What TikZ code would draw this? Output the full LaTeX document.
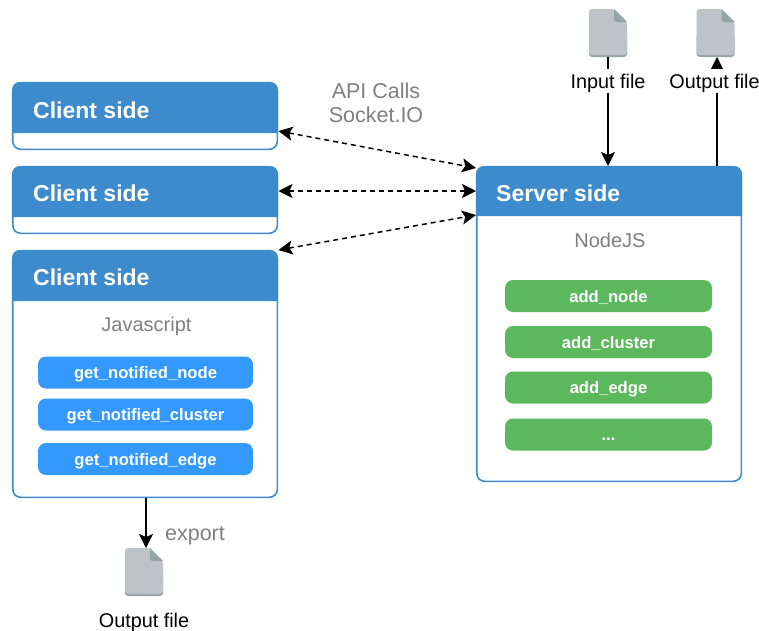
\documentclass[tikz,border=0pt]{standalone}
\usepackage{fontspec}
\setmainfont{Liberation Sans}
\usetikzlibrary{arrows.meta}

\definecolor{headblue}{HTML}{3D8ACD}
\definecolor{pillblue}{HTML}{3399FF}
\definecolor{pillgreen}{HTML}{5CB85C}
\definecolor{filegray}{HTML}{BDC3C7}
\definecolor{foldgray}{HTML}{95A5A6}
\definecolor{labelgray}{HTML}{808080}

\tikzset{
    panel/.style={draw=headblue, line width=1.6pt, rounded corners=8pt, fill=white,
        minimum width=264.6pt, inner sep=0pt, outer sep=0pt},
    headtext/.style={text=white, font=\fontsize{23}{23}\selectfont\bfseries, anchor=west, inner sep=0pt},
    pill/.style={rounded corners=8pt, text=white, font=\fontsize{16.6}{16.6}\selectfont\bfseries,
        inner sep=0pt, outer sep=0pt, minimum height=32pt, text height=13pt, text depth=1pt},
    bluepill/.style={pill, fill=pillblue, minimum width=215pt},
    greenpill/.style={pill, fill=pillgreen, minimum width=207pt},
    graytext/.style={text=labelgray, font=\fontsize{20}{20}\selectfont, inner sep=0pt},
    filetext/.style={text=black, fill=white, font=\fontsize{19.8}{19.8}\selectfont, inner sep=1pt,
        minimum height=24pt, text height=16pt, text depth=2pt},
    fileicon/.style={minimum width=38pt, minimum height=48pt, inner sep=0pt, outer sep=0pt,
        path picture={
            \fill [foldgray, rounded corners=3pt] (path picture bounding box.south west) rectangle
                (path picture bounding box.east);
            \fill [filegray, rounded corners=3pt] ([yshift=2pt]path picture bounding box.south west) --
                (path picture bounding box.north west) -- ([xshift=-13pt]path picture bounding box.north east) --
                ([yshift=-13pt]path picture bounding box.north east) -- ([yshift=2pt]path picture bounding box.south east) -- cycle;
            \fill [foldgray] ([xshift=-13pt]path picture bounding box.north east) --
                ([yshift=-13pt]path picture bounding box.north east) -- ([xshift=-11pt,yshift=-13pt]path picture bounding box.north east) -- ([xshift=-13pt,yshift=-11pt]path picture bounding box.north east) -- cycle;
        }},
    solidarrow/.style={line width=1.6pt, -{Stealth[length=14pt,width=14pt,inset=3pt]}},
    dashedarrow/.style={line width=1.5pt, dash pattern=on 5pt off 4pt,
        {Stealth[length=14pt,width=14pt,inset=3pt]}-{Stealth[length=14pt,width=14pt,inset=3pt]}}
}

\begin{document}
\begin{tikzpicture}[x=1pt, y=-1pt]

\useasboundingbox (0,0) rectangle (759,630);

\coordinate (c1) at (278.5,131);
\coordinate (c2) at (278.5,191);
\coordinate (c3) at (278.5,250);
\coordinate (s1) at (476,168);
\coordinate (s2) at (476,191);
\coordinate (s3) at (476,215);
\coordinate (in) at (608,166);
\coordinate (out) at (717,166);
\coordinate (outtop) at (717,57);
\coordinate (exporttop) at (146,498);

% client and server panels
\foreach \i/\y/\m/\b in {1/82/116/133, 2/166/200/217, 3/250/374/301} {
    \node (client\i) [panel, minimum height=2*(\m-\y)*1pt-1.4pt] at (145,\m) {};
    \fill [headblue, rounded corners=8pt] (12,\b) [rounded corners=8pt] -- (12,\y) -- (278,\y) [sharp corners] -- (278,\b) -- cycle;
}
\node (server) [panel, minimum height=314.6pt] at (609,324) {};
\fill [headblue] (476,216) [rounded corners=8pt] -- (476,166) -- (742,166) [sharp corners] -- (742,216) -- cycle;

\node (head1) [headtext] at (33,110) {Client side};
\node (head2) [headtext] at (33,193) {Client side};
\node (head3) [headtext] at (33,277) {Client side};
\node (head4) [headtext] at (496,193) {Server side};

\node (javascript) [graytext] at (146.5,326) {Javascript};
\node (nodejs) [graytext] at (610,240) {NodeJS};

\node (notifynode) [bluepill] at (145.5,372.5) {get\_notified\_node};
\node (notifycluster) [bluepill] at (145.5,414.5) {get\_notified\_cluster};
\node (notifyedge) [bluepill] at (145.5,459) {get\_notified\_edge};

\node (addnode) [greenpill] at (608.5,296) {add\_node};
\node (addcluster) [greenpill] at (608.5,342) {add\_cluster};
\node (addedge) [greenpill] at (608.5,387.5) {add\_edge};
\node (dots) [greenpill] at (608.5,434.5) {...};

% files
\node (inputfile) [fileicon] at (608,33) {};
\node (outputfile) [fileicon] at (715.5,33) {};
\node (exportfile) [fileicon] at (144,572) {};

\draw [solidarrow] (inputfile.south) -- (in);
\draw [solidarrow] (out) -- (outtop);
\draw [solidarrow] (exporttop) -- (146,548);

\foreach \i in {1,2,3}
    \draw [dashedarrow] (c\i) -- (s\i);

\node (inputlabel) [filetext] at (608,81) {Input file};
\node (outputlabel) [filetext] at (714.5,81) {Output file};
\node (exportlabel) [text=black, font=\fontsize{19.8}{19.8}\selectfont, inner sep=0pt] at (144,622) {Output file};

\node (api) [graytext, font=\fontsize{21.5}{21.5}\selectfont] at (376,91) {API Calls};
\node (socket) [graytext, font=\fontsize{21.5}{21.5}\selectfont] at (376,115) {Socket.IO};
\node (export) [graytext, font=\fontsize{21.5}{21.5}\selectfont] at (195,536) {export};

\end{tikzpicture}
\end{document}
